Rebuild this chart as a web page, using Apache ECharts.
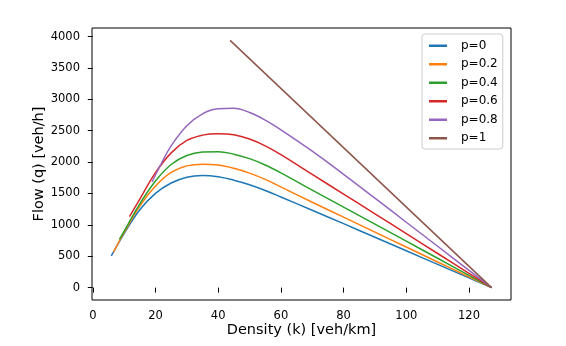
<!DOCTYPE html>
<html>
<head>
<meta charset="utf-8">
<title>Flow-density</title>
<script src="https://cdn.jsdelivr.net/npm/echarts@6/dist/echarts.min.js"></script>
<style>
	html, body { margin: 0; padding: 0; background: #fff; }
	#dataView { width: 566px; height: 346px; }
</style>
</head>
<body>
<div id="dataView"></div>
<script>
// values: density (veh/km) and flow (veh/h) per penetration rate
var densityP0 = [5.9, 10, 15, 20, 25, 30, 35, 40, 45, 50, 55, 60, 70, 80, 90, 100, 110, 120, 127.2];
var flowP0 = [505, 862, 1240, 1502, 1667, 1760, 1788, 1767, 1712, 1640, 1548, 1445, 1233, 1019, 803, 587, 371, 155, 0];

var densityP02 = [6.6, 10, 15, 20, 25, 30, 35, 40, 45, 50, 55, 60, 70, 80, 90, 100, 110, 120, 127.2];
var flowP02 = [566, 880, 1300, 1618, 1835, 1940, 1968, 1955, 1903, 1825, 1725, 1605, 1361, 1123, 885, 647, 409, 171, 0];

var densityP04 = [8.5, 11, 15, 20, 25, 30, 35, 40, 45, 50, 55, 60, 70, 80, 90, 100, 110, 120, 127.2];
var flowP04 = [768, 990, 1335, 1700, 1962, 2105, 2160, 2167, 2127, 2055, 1955, 1830, 1554, 1284, 1012, 740, 468, 196, 0];

var densityP06 = [11.7, 15, 20, 25, 30, 35, 40, 45, 50, 55, 60, 70, 80, 90, 100, 110, 120, 127.2];
var flowP06 = [1130, 1410, 1832, 2147, 2345, 2430, 2452, 2435, 2368, 2260, 2120, 1805, 1490, 1176, 860, 544, 228, 0];

var densityP08 = [18.9, 22, 25, 30, 35, 40, 45, 50, 55, 60, 70, 80, 90, 100, 110, 120, 127.2];
var flowP08 = [1683, 1990, 2260, 2580, 2770, 2850, 2858, 2790, 2670, 2515, 2175, 1805, 1425, 1042, 659, 276, 0];

var densityP1 = [43.8, 127.2];
var flowP1 = [3940, 0];

var seriesNames = ['p=0', 'p=0.2', 'p=0.4', 'p=0.6', 'p=0.8', 'p=1'];
var seriesColors = ['#1f77b4', '#ff7f0e', '#2ca02c', '#d62728', '#9467bd', '#8c564b'];

var xTicks = [0, 20, 40, 60, 80, 100, 120];
var yTicks = [0, 500, 1000, 1500, 2000, 2500, 3000, 3500, 4000];

function pairs(xs, ys) {
	var out = [];
	for (var i = 0; i < xs.length; i++) {
		out.push([xs[i], ys[i]]);
	}
	return out;
}

var curves = [
	pairs(densityP0, flowP0),
	pairs(densityP02, flowP02),
	pairs(densityP04, flowP04),
	pairs(densityP06, flowP06),
	pairs(densityP08, flowP08),
	pairs(densityP1, flowP1)
];

var font = 'DejaVu Sans';
var dataViewcharts = echarts.init(document.getElementById('dataView'));

var series = [];
curves.forEach(function(c, i) {
	series.push({
		name: seriesNames[i],
		type: 'line',
		data: c,
		smooth: 0.4,
		symbol: 'none',
		animation: false,
		lineStyle: { width: 1.5, color: seriesColors[i] },
		itemStyle: { color: seriesColors[i] }
	});
});

// plain numbers, no thousands separator
function plain(v) {
	return String(v);
}

var dataViewoption = {
	backgroundColor: '#fff',
	textStyle: { fontFamily: font },
	grid: {
		left: 92, right: 55, top: 28, bottom: 46,
		show: true,
		borderColor: '#000',
		borderWidth: 1
	},
	legend: {
		orient: 'vertical',
		left: 422,
		top: 34,
		data: seriesNames,
		icon: 'rect',
		itemWidth: 18,
		itemHeight: 2.5,
		itemGap: 5,
		padding: [5, 5, 4, 7],
		backgroundColor: '#fff',
		borderColor: '#cccccc',
		borderWidth: 1,
		borderRadius: 3,
		textStyle: {
			fontFamily: font,
			fontSize: 12,
			color: '#000',
			lineHeight: 13.5,
			padding: [0, 0, 0, 9]
		}
	},
	xAxis: {
		type: 'value',
		min: -0.25,
		max: 133.4,
		name: 'Density (k) [veh/km]',
		nameLocation: 'middle',
		nameGap: 23,
		nameMoveOverlap: false,
		nameTextStyle: { fontFamily: font, fontSize: 14.5, color: '#000' },
		axisLine: { show: false },
		splitLine: { show: false },
		axisTick: { show: true, length: 5, lineStyle: { color: '#000' }, customValues: xTicks },
		axisLabel: { fontFamily: font, fontSize: 11.5, color: '#000', margin: 10, customValues: xTicks, formatter: plain }
	},
	yAxis: {
		type: 'value',
		min: -197,
		max: 4137,
		name: 'Flow (q) [veh/h]',
		nameLocation: 'middle',
		nameGap: 45,
		nameMoveOverlap: false,
		nameTextStyle: { fontFamily: font, fontSize: 14.5, color: '#000' },
		axisLine: { show: false },
		splitLine: { show: false },
		axisTick: { show: true, length: 5, lineStyle: { color: '#000' }, customValues: yTicks },
		axisLabel: { fontFamily: font, fontSize: 11.5, color: '#000', margin: 12, customValues: yTicks, formatter: plain }
	},
	series: series
};

dataViewcharts.setOption(dataViewoption);
</script>
</body>
</html>
